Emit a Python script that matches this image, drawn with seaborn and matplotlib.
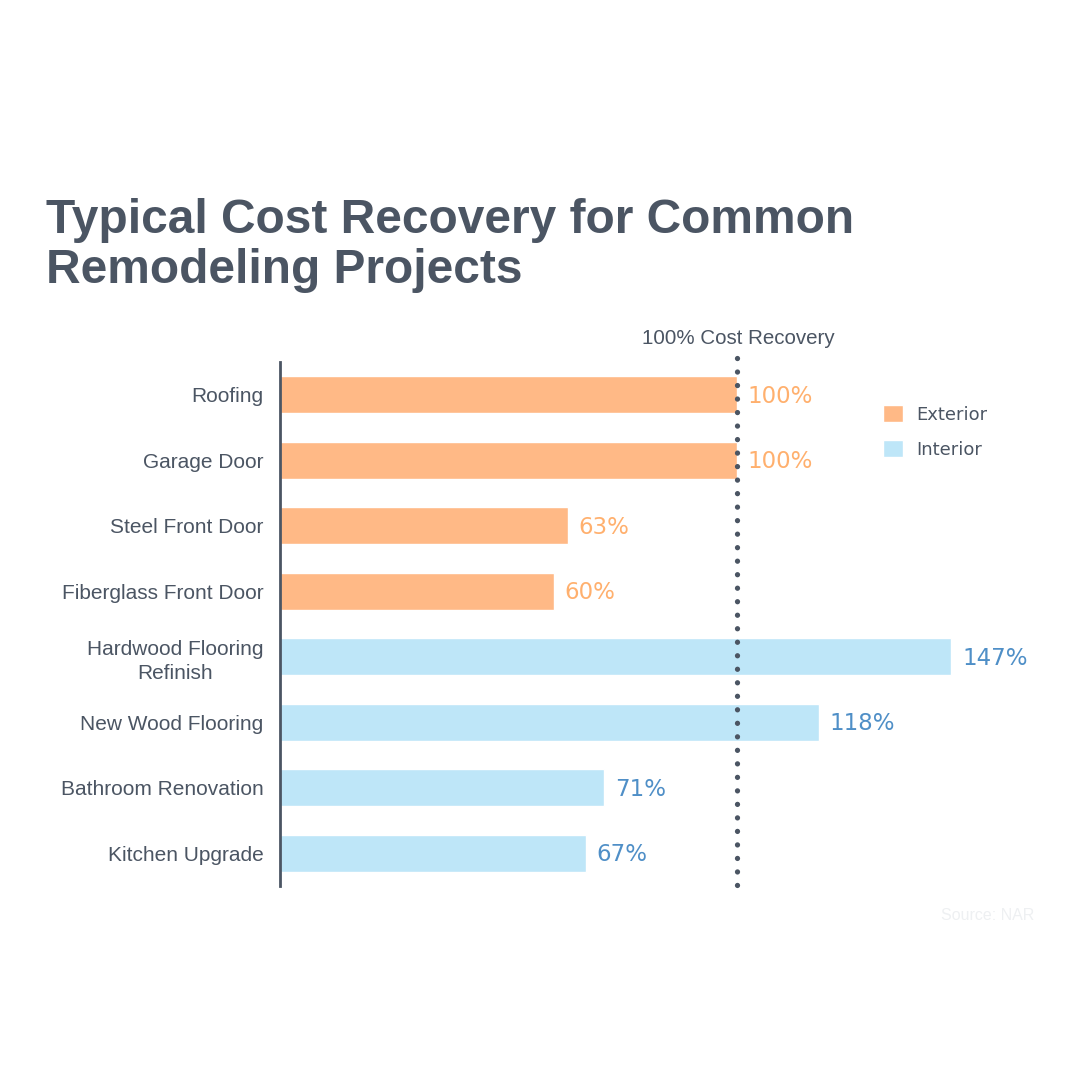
import pandas as pd
import matplotlib.pyplot as plt
import seaborn as sns
from matplotlib.patches import Patch

sns.set_theme(style="white")
plt.rcParams['font.family'] = ['Liberation Sans', 'DejaVu Sans']

# data
projects = ["Roofing", "Garage Door", "Steel Front Door", "Fiberglass Front Door",
            "Hardwood Flooring\nRefinish", "New Wood Flooring", "Bathroom Renovation",
            "Kitchen Upgrade"]
recovery = [100, 100, 63, 60, 147, 118, 71, 67]
kind = ["Exterior"] * 4 + ["Interior"] * 4
threshold = 100

bar_colors = {"Exterior": "#FFB986", "Interior": "#BEE6F8"}
text_colors = {"Exterior": "#FFB06E", "Interior": "#4F8FC7"}
dark = "#4B5563"
label_font = ["DejaVu Sans"]

df = pd.DataFrame({"project": projects, "recovery": recovery, "kind": kind})

fig = plt.figure(figsize=(10.8, 10.8), dpi=100)
ax = fig.add_axes([0.2593, 0.1796, 0.6767, 0.4852])

sns.barplot(data=df, x="recovery", y="project", hue="kind", dodge=False,
            palette=bar_colors, width=0.56, ax=ax, legend=False, saturation=1)

ax.set_xlim(0, 160)
ax.set_ylim(len(projects) - 0.5, -0.5)

# value labels
for i, (v, k) in enumerate(zip(recovery, kind)):
    ax.text(v + 2.3, i + 0.02, f"{v}%", va="center", ha="left", fontsize=16.5,
            color=text_colors[k], family=label_font)

# 100% reference line
ax.plot([threshold, threshold], [-0.56, len(projects) - 0.5], color=dark,
        linestyle=(0, (0.01, 2.55)), linewidth=3.8, dash_capstyle="round",
        clip_on=False, zorder=5)
fig.text(0.6833, 1 - 344 / 1080, "100% Cost Recovery", ha="center", va="baseline",
         fontsize=14.8, color=dark)

# axes styling
for s in ["top", "right", "bottom"]:
    ax.spines[s].set_visible(False)
ax.spines["left"].set_color(dark)
ax.spines["left"].set_linewidth(2)
ax.set_xticks([])
ax.set_xlabel("")
ax.set_ylabel("")
ax.tick_params(axis="y", length=0, pad=12, labelsize=15, labelcolor=dark)
for lbl in ax.get_yticklabels():
    lbl.set_multialignment("center")
    lbl.set_linespacing(1.35)

# legend
handles = [Patch(facecolor=bar_colors["Exterior"], label="Exterior"),
           Patch(facecolor=bar_colors["Interior"], label="Interior")]
leg = fig.legend(handles=handles, loc="upper left", bbox_to_anchor=(0.803, 0.64),
                 frameon=False, handlelength=1.1, handleheight=1.1,
                 handletextpad=0.7, labelspacing=0.9,
                 prop={"family": label_font, "size": 13})
for t in leg.get_texts():
    t.set_color(dark)

# title
fig.text(0.043, 1 - 283 / 1080, "Typical Cost Recovery for Common\nRemodeling Projects",
         fontsize=34.5, fontweight="bold", color=dark, ha="left", va="baseline",
         linespacing=1.15)

# source
fig.text(0.958, 0.152, "Source: NAR", ha="right", va="center", fontsize=11.5,
         color="#EEF0F2")

fig.savefig("out.png", dpi=100, facecolor="white")
